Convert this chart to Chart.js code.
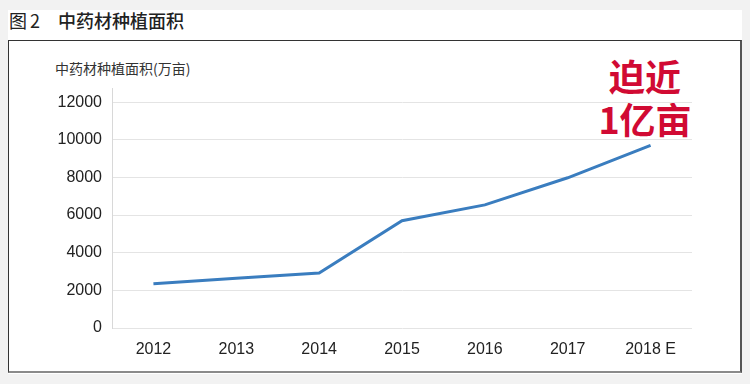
<!DOCTYPE html>
<html>
<head>
<meta charset="utf-8">
<script src="https://cdn.jsdelivr.net/npm/chart.js@4"></script>
<style>
  html, body { margin: 0; padding: 0; background: #f2f2f2; }
  body { width: 750px; height: 384px; position: relative; overflow: hidden; font-family: "Noto Sans CJK SC", sans-serif; }
  #panel { position: absolute; left: 8px; top: 10px; width: 734px; height: 364px; background: #fff; }
  #box { position: absolute; left: 8px; top: 40px; width: 731px; height: 330px; border: 1px solid #333; border-bottom: 2px solid #8a8a8a; border-right: 2px solid #555; background: #fff; }
  .t { position: absolute; white-space: nowrap; }
  #fig { left: 9px; top: 8px; font-size: 18px; font-weight: normal; color: #222; line-height: 24px; letter-spacing: 3px; }
  #figt { left: 58px; top: 8px; font-size: 18px; font-weight: 500; color: #222; line-height: 24px; letter-spacing: 0px; }
  #ytitle { left: 55px; top: 58px; font-size: 14px; color: #333; line-height: 20px; }
  #note { left: 580px; top: 54px; width: 130px; text-align: center; font-size: 36px; font-weight: bold; color: #d10a33; line-height: 43px; }
  canvas { position: absolute; left: 0; top: 0; }
</style>
</head>
<body>
<div id="panel"></div>
<div id="box"></div>
<div class="t" id="fig">图2</div>
<div class="t" id="figt">中药材种植面积</div>
<div class="t" id="ytitle">中药材种植面积(万亩)</div>
<div class="t" id="note">迫近<br>1亿亩</div>
<canvas id="c" width="750" height="384"></canvas>
<script>
const categories = ['2012', '2013', '2014', '2015', '2016', '2017', '2018 E'];
const plantingArea = [2350, 2640, 2920, 5700, 6540, 7980, 9700];
const yTickValues = [0, 2000, 4000, 6000, 8000, 10000, 12000];

new Chart(document.getElementById('c'), {
  type: 'line',
  data: {
    labels: categories,
    datasets: [{
      data: plantingArea,
      borderColor: '#3a7dbf',
      borderWidth: 3,
      pointRadius: 0,
      tension: 0,
      fill: false
    }]
  },
  options: {
    responsive: false,
    animation: false,
    layout: { padding: { left: 58, right: 58, top: 88, bottom: 16 } },
    plugins: { legend: { display: false }, tooltip: { enabled: false } },
    scales: {
      x: {
        offset: true,
        grid: { display: false },
        border: { display: false },
        ticks: { color: '#222', font: { family: 'Liberation Sans', size: 16 }, padding: 4, maxRotation: 0 },
        afterFit: s => { s.height = 40; }
      },
      y: {
        min: 0,
        max: 12750,
        afterBuildTicks: s => { s.ticks = yTickValues.map(v => ({ value: v })); },
        grid: { color: '#e4e4e4', lineWidth: 1, drawTicks: false },
        border: { color: '#d8d8d8', width: 1 },
        ticks: { color: '#222', font: { family: 'Liberation Sans', size: 16 }, padding: 10, callback: v => String(v) },
        afterFit: s => { s.width = 54; }
      }
    }
  }
});
</script>
</body>
</html>
